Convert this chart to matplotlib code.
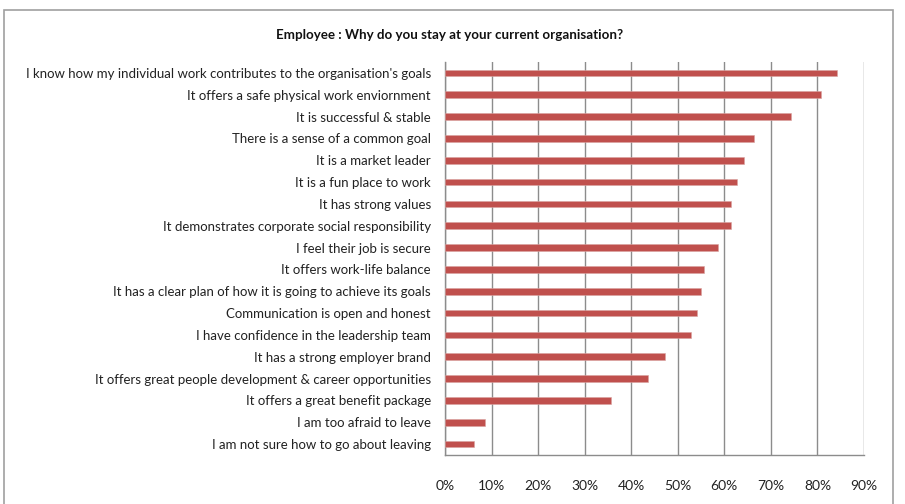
import matplotlib.pyplot as plt
from matplotlib.patches import Rectangle
from matplotlib.ticker import FuncFormatter

plt.rcParams["font.family"] = ["Lato", "DejaVu Sans"]

# survey answers, top to bottom
reasons = [
    "I know how my individual work contributes to the organisation's goals",
    "It offers a safe physical work enviornment",
    "It is successful & stable",
    "There is a sense of a common goal",
    "It is a market leader",
    "It is a fun place to work",
    "It has strong values",
    "It demonstrates corporate social responsibility",
    "I feel their job is secure",
    "It offers work-life balance",
    "It has a clear plan of how it is going to achieve its goals",
    "Communication is open and honest",
    "I have confidence in the leadership team",
    "It has a strong employer brand",
    "It offers great people development & career opportunities",
    "It offers a great benefit package",
    "I am too afraid to leave",
    "I am not sure how to go about leaving",
]
share = [0.843, 0.808, 0.743, 0.663, 0.643, 0.628, 0.614, 0.614, 0.587,
         0.557, 0.550, 0.542, 0.528, 0.473, 0.435, 0.356, 0.085, 0.062]
xticks = [0.0, 0.1, 0.2, 0.3, 0.4, 0.5, 0.6, 0.7, 0.8, 0.9]

fig = plt.figure(figsize=(9.05, 5.04), dpi=100)
W, H = 905, 504

# outer chart border (bottom edge runs off the image)
fig.patches.append(Rectangle((4 / W, -0.05), 889 / W, (H - 10) / H + 0.05,
                             transform=fig.transFigure, fill=False,
                             edgecolor="#a0a0a0", linewidth=1.2))

ax = fig.add_axes([445 / W, 1 - 455 / H, 419 / W, 393 / H])

pos = list(range(len(reasons)))[::-1]
ax.barh(pos, share, height=0.3, color="#C0504D", edgecolor="#d9a3a1",
        linewidth=0.4, zorder=3)

ax.set_xlim(0, 0.9)
ax.set_ylim(-0.5, len(reasons) - 0.5)
ax.set_xticks(xticks)
ax.xaxis.set_major_formatter(FuncFormatter(lambda v, _: f"{v * 100:.0f}%"))
ax.set_yticks(pos)
ax.set_yticklabels(reasons)

ax.grid(axis="x", color="#8c8c8c", linewidth=1.0, zorder=0)
ax.tick_params(axis="x", length=0, pad=18, labelsize=10, colors="#222222")
ax.tick_params(axis="y", length=0, pad=10, labelsize=9.5, colors="#222222")

for side in ("top", "right"):
    ax.spines[side].set_visible(False)
for side in ("left", "bottom"):
    ax.spines[side].set_color("#8c8c8c")
    ax.spines[side].set_linewidth(1.0)

fig.text(450 / W, 1 - 35 / H, "Employee : Why do you stay at your current organisation?",
         ha="center", va="center", fontsize=9.6, fontweight="bold", color="#111111")

fig.savefig("out.png", dpi=100)
